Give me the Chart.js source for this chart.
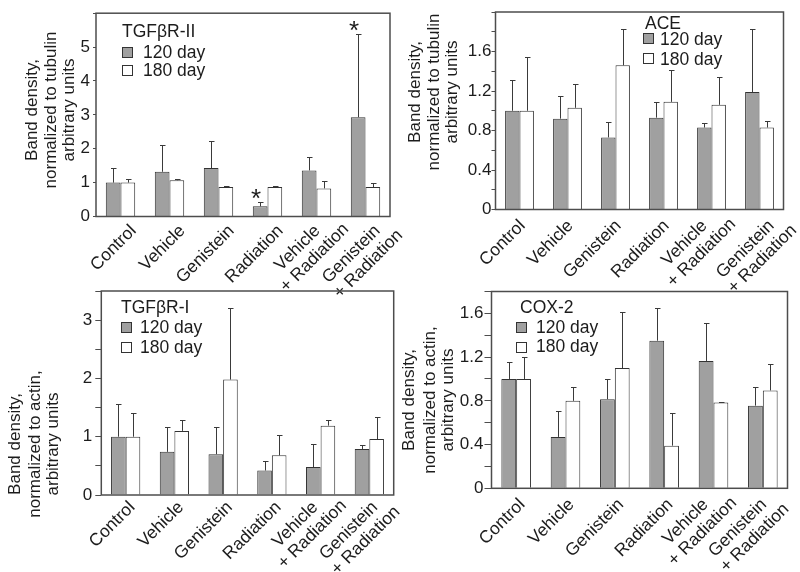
<!DOCTYPE html>
<html><head><meta charset="utf-8">
<script src="https://cdn.jsdelivr.net/npm/chart.js@4.4.1/dist/chart.umd.min.js"></script>
<style>
html,body{margin:0;padding:0;background:#fff;}
#wrap{position:relative;width:800px;height:572px;overflow:hidden;}
canvas{position:absolute;left:0;top:0;}
</style></head><body>
<div id="wrap">
<canvas id="c1" width="800" height="572"></canvas>
<canvas id="c2" width="800" height="572"></canvas>
<canvas id="c3" width="800" height="572"></canvas>
<canvas id="c4" width="800" height="572"></canvas>
</div>
<script>
// ---------- data ----------
const categories = ["Control", "Vehicle", "Genistein", "Radiation", ["Vehicle", "+ Radiation"], ["Genistein", "+ Radiation"]];
const seriesNames = ["120 day", "180 day"];

// TGFβR-II (normalized to tubulin)
const tgfr2_120    = [1.00, 1.32, 1.43, 0.30, 1.36, 2.93];
const tgfr2_120_sd = [0.43, 0.79, 0.79, 0.13, 0.39, 2.47];
const tgfr2_180    = [1.00, 1.07, 0.87, 0.87, 0.83, 0.87];
const tgfr2_180_sd = [0.10, 0.03, 0.03, 0.03, 0.23, 0.12];
const tgfr2_120_sig = [0, 0, 0, 1, 0, 1];

// ACE (normalized to tubulin)
const ace_120    = [1.00, 0.92, 0.73, 0.93, 0.83, 1.19];
const ace_120_sd = [0.31, 0.23, 0.16, 0.16, 0.05, 0.64];
const ace_180    = [1.00, 1.03, 1.46, 1.09, 1.06, 0.83];
const ace_180_sd = [0.54, 0.24, 0.37, 0.32, 0.28, 0.07];

// TGFβR-I (normalized to actin)
const tgfr1_120    = [1.00, 0.74, 0.70, 0.42, 0.48, 0.79];
const tgfr1_120_sd = [0.56, 0.43, 0.47, 0.17, 0.39, 0.06];
const tgfr1_180    = [1.00, 1.10, 1.98, 0.68, 1.19, 0.96];
const tgfr1_180_sd = [0.41, 0.18, 1.23, 0.35, 0.10, 0.38];

// COX-2 (normalized to actin)
const cox2_120    = [1.00, 0.47, 0.815, 1.35, 1.165, 0.756];
const cox2_120_sd = [0.155, 0.24, 0.185, 0.30, 0.345, 0.174];
const cox2_180    = [1.00, 0.80, 1.10, 0.39, 0.785, 0.895];
const cox2_180_sd = [0.20, 0.13, 0.51, 0.30, 0.005, 0.245];

const titleTubulin = ["Band density,", "normalized to tubulin", "arbitrary units"];
const titleActin   = ["Band density,", "normalized to actin,", "arbitrary units"];

// ---------- style ----------
const FONT = "'Liberation Sans', Arial, Helvetica, sans-serif";
const TXT = "#1c1c1c";
const GRAY = "#a0a0a0";
const EDGE = "#333333";
const FRAME = "#4d4d4d";
const W = 800, H = 572;

const framePlugin = {
  id: 'frame',
  afterDatasetsDraw(chart) {
    const a = chart.chartArea, ctx = chart.ctx;
    ctx.save();
    ctx.strokeStyle = FRAME; ctx.lineWidth = 1.5;
    ctx.strokeRect(a.left, a.top, a.right - a.left, a.bottom - a.top);
    ctx.restore();
  }
};

const errorPlugin = {
  id: 'errbars',
  afterDatasetsDraw(chart) {
    const ctx = chart.ctx, ys = chart.scales.y;
    ctx.save();
    ctx.strokeStyle = "#3a3a3a"; ctx.lineWidth = 1;
    chart.data.datasets.forEach((ds, i) => {
      const meta = chart.getDatasetMeta(i);
      meta.data.forEach((el, j) => {
        const x = Math.round(el.x) + 0.5;
        const y0 = el.y;
        const y1 = Math.round(ys.getPixelForValue(ds.data[j] + ds.errors[j])) + 0.5;
        ctx.beginPath();
        ctx.moveTo(x, y0); ctx.lineTo(x, y1);
        ctx.moveTo(x - 2.5, y1); ctx.lineTo(x + 3, y1);
        ctx.stroke();
        if (ds.sig && ds.sig[j]) {
          ctx.fillStyle = TXT;
          ctx.font = "26px " + FONT;
          ctx.textAlign = 'center'; ctx.textBaseline = 'alphabetic';
          ctx.fillText('*', el.x - 4, y1 - 11 + 15);
        }
      });
    });
    ctx.restore();
  }
};

const xLabelPlugin = {
  id: 'xlab',
  afterDraw(chart, args, o) {
    const ctx = chart.ctx, xs = chart.scales.x, bottom = chart.chartArea.bottom;
    const d = [Math.SQRT1_2, -Math.SQRT1_2], n = [Math.SQRT1_2, Math.SQRT1_2];
    ctx.save();
    ctx.font = "17.5px " + FONT; ctx.fillStyle = TXT;
    ctx.textAlign = 'right'; ctx.textBaseline = 'alphabetic';
    chart.data.labels.forEach((lab, i) => {
      const tx = xs.getPixelForValue(i);
      const lines = Array.isArray(lab) ? lab : [lab];
      const shift = lines.length > 1 ? (o.multiShift[i] || 0) : 0;
      let ex = tx + o.ex + shift, ey = bottom + o.ey;
      lines.forEach((ln, k) => {
        if (k > 0) {
          const w0 = ctx.measureText(lines[k - 1]).width, w1 = ctx.measureText(ln).width;
          const along = (w1 - w0) / 2 + 5;
          ex += d[0] * along + n[0] * 19; ey += d[1] * along + n[1] * 19;
        }
        ctx.save(); ctx.translate(ex, ey); ctx.rotate(-Math.PI / 4); ctx.fillText(ln, 0, 0); ctx.restore();
      });
    });
    ctx.restore();
  }
};

const yTitlePlugin = {
  id: 'ytitle',
  afterDraw(chart, args, o) {
    const ctx = chart.ctx;
    ctx.save();
    ctx.font = "17px " + FONT; ctx.fillStyle = TXT;
    ctx.textAlign = 'center'; ctx.textBaseline = 'alphabetic';
    o.lines.forEach((ln, k) => {
      ctx.save(); ctx.translate(o.xs[k], o.cy); ctx.rotate(-Math.PI / 2); ctx.fillText(ln, 0, 0); ctx.restore();
    });
    ctx.restore();
  }
};

const legendPlugin = {
  id: 'boxlegend',
  afterDraw(chart, args, o) {
    const ctx = chart.ctx;
    ctx.save();
    ctx.font = "17.5px " + FONT; ctx.fillStyle = TXT;
    ctx.textAlign = 'left'; ctx.textBaseline = 'alphabetic';
    ctx.fillText(o.title, o.titleX, o.titleY);
    chart.data.datasets.forEach((ds, i) => {
      ctx.fillStyle = ds.backgroundColor;
      ctx.fillRect(o.boxX, o.boxY[i], 11, 11);
      ctx.strokeStyle = EDGE; ctx.lineWidth = 1;
      ctx.strokeRect(o.boxX + 0.5, o.boxY[i] + 0.5, 10, 10);
      ctx.fillStyle = TXT;
      ctx.fillText(ds.label, o.textX, o.textY[i]);
    });
    ctx.restore();
  }
};

function fmtTick(v, every, max, dec) {
  const r = v / every;
  if (Math.abs(r - Math.round(r)) > 1e-6) return '';
  if (v >= max - 1e-9) return '';
  return v === 0 ? '0' : v.toFixed(dec);
}

function makeChart(id, p) {
  return new Chart(document.getElementById(id), {
    type: 'bar',
    data: {
      labels: categories,
      datasets: [
        { label: seriesNames[0], data: p.a, errors: p.aErr, sig: p.sig, backgroundColor: GRAY, borderColor: EDGE, borderWidth: 1 },
        { label: seriesNames[1], data: p.b, errors: p.bErr, backgroundColor: "#ffffff", borderColor: EDGE, borderWidth: 1 }
      ]
    },
    options: {
      responsive: false, animation: false, devicePixelRatio: 1,
      layout: { padding: { top: p.area.top, right: W - p.area.right, left: 0, bottom: 0 } },
      datasets: { bar: { categoryPercentage: 0.6, barPercentage: 1.0 } },
      plugins: {
        legend: { display: false }, tooltip: { enabled: false },
        xlab: p.xlab, ytitle: p.ytitle, boxlegend: p.legend
      },
      scales: {
        x: {
          grid: { display: false }, border: { display: false },
          ticks: { display: false },
          afterFit(s) { s.height = H - p.area.bottom; }
        },
        y: {
          min: 0, max: p.max,
          grid: { drawOnChartArea: false, drawTicks: true, tickLength: p.tickLen, color: FRAME, lineWidth: 1 },
          border: { display: false },
          ticks: {
            stepSize: p.step, autoSkip: false, padding: p.pad,
            color: TXT, font: { family: FONT, size: 17 },
            callback: v => fmtTick(v, p.every, p.max, p.dec)
          },
          afterFit(s) { s.width = p.area.left; }
        }
      }
    },
    plugins: [framePlugin, errorPlugin, xLabelPlugin, yTitlePlugin, legendPlugin]
  });
}

makeChart('c1', {
  a: tgfr2_120, aErr: tgfr2_120_sd, b: tgfr2_180, bErr: tgfr2_180_sd, sig: tgfr2_120_sig,
  area: { left: 96, right: 390, top: 13, bottom: 216.5 },
  max: 6, step: 1, every: 1, dec: 0, tickLen: 3, pad: 3,
  xlab: { ex: 16.5, ey: 15, multiShift: { 4: -12, 5: -1 } },
  ytitle: { lines: titleTubulin, xs: [36.5, 55.5, 74], cy: 110 },
  legend: { title: "TGFβR-II", titleX: 122, titleY: 37, boxX: 122, boxY: [47, 65], textX: 143, textY: [58, 76] }
});
makeChart('c2', {
  a: ace_120, aErr: ace_120_sd, b: ace_180, bErr: ace_180_sd,
  area: { left: 495.5, right: 783.5, top: 12, bottom: 209.5 },
  max: 2, step: 0.2, every: 0.4, dec: 1, tickLen: 4, pad: 0,
  xlab: { ex: 6.5, ey: 17, multiShift: { 4: -10, 5: 9 } },
  ytitle: { lines: titleTubulin, xs: [420, 438.5, 457], cy: 92 },
  legend: { title: "ACE", titleX: 645, titleY: 29, boxX: 643, boxY: [33, 53], textX: 660, textY: [45, 65] }
});
makeChart('c3', {
  a: tgfr1_120, aErr: tgfr1_120_sd, b: tgfr1_180, bErr: tgfr1_180_sd,
  area: { left: 101.3, right: 393.7, top: 291, bottom: 495 },
  max: 3.5, step: 0.5, every: 1, dec: 0, tickLen: 6, pad: 3,
  xlab: { ex: 10, ey: 13, multiShift: { 4: -12, 5: -1 } },
  ytitle: { lines: titleActin, xs: [20, 40, 58], cy: 444 },
  legend: { title: "TGFβR-I", titleX: 121, titleY: 313, boxX: 121, boxY: [322, 342], textX: 140, textY: [333, 353] }
});
makeChart('c4', {
  a: cox2_120, aErr: cox2_120_sd, b: cox2_180, bErr: cox2_180_sd,
  area: { left: 491.5, right: 787.5, top: 291.5, bottom: 488.3 },
  max: 1.8, step: 0.2, every: 0.4, dec: 1, tickLen: 7, pad: 1,
  xlab: { ex: 9.5, ey: 17, multiShift: { 4: -14, 5: -5 } },
  ytitle: { lines: titleActin, xs: [414, 435, 453], cy: 400 },
  legend: { title: "COX-2", titleX: 520, titleY: 313, boxX: 516, boxY: [322, 342], textX: 536, textY: [333, 352] }
});
</script>
</body></html>
